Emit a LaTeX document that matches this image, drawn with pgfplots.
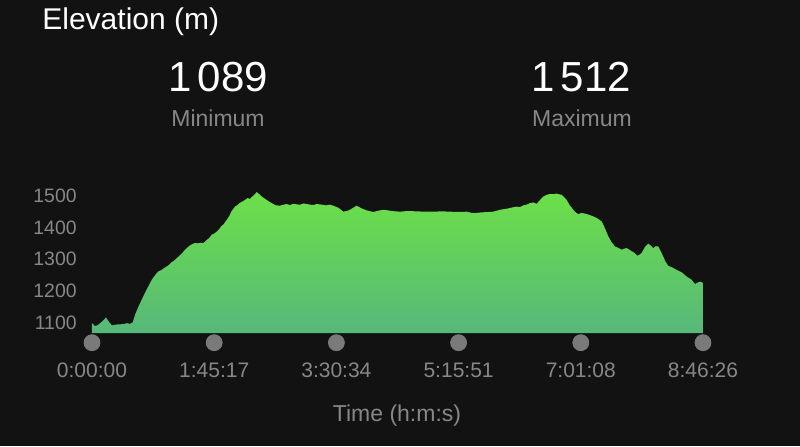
\documentclass[border=0pt]{standalone}
\usepackage{pgfplots}
\pgfplotsset{compat=1.18}
\usepackage{pgfplotstable}
\usepackage{fontspec}
\setmainfont{Liberation Sans}
\definecolor{bg}{HTML}{121212}
\definecolor{lbl}{HTML}{878787}
\definecolor{dot}{HTML}{7A7A7A}
\definecolor{gtop}{RGB}{108,224,72}
\definecolor{gbot}{RGB}{86,184,122}
\pgfplotstableread{
t e
0 1067
0 1098
155 1089
300 1092
517 1103
724 1116
900 1100
1034 1091
1300 1094
1600 1095
1809 1098
1964 1096
2100 1100
2223 1124
2400 1150
2569 1172
2750 1195
2910 1214
3100 1236
3345 1256
3450 1262
3600 1266
3750 1273
3862 1277
4000 1283
4100 1290
4250 1295
4379 1303
4500 1310
4650 1318
4780 1328
4896 1335
5000 1340
5100 1345
5200 1348
5325 1351
5450 1350
5600 1352
5754 1351
5850 1356
5930 1361
6050 1366
6200 1378
6300 1380
6446 1387
6550 1393
6700 1405
6800 1410
6963 1424
7100 1436
7200 1450
7393 1466
7500 1470
7650 1478
7800 1483
7909 1487
8050 1493
8168 1490
8250 1496
8339 1500
8420 1505
8514 1512
8650 1505
8773 1498
9000 1488
9150 1482
9290 1477
9500 1470
9719 1469
9900 1472
10050 1474
10250 1471
10406 1475
10600 1473
10750 1472
10950 1476
11099 1474
11300 1472
11450 1471
11600 1474
11787 1473
12100 1470
12300 1472
12474 1469
12750 1462
12991 1450
13150 1452
13300 1455
13500 1462
13684 1469
13800 1465
13950 1460
14201 1454
14400 1451
14542 1449
14800 1453
15059 1456
15300 1454
15500 1452
15922 1450
16300 1452
16800 1451
17200 1450
17644 1450
18100 1451
18500 1450
19000 1449
19370 1450
19712 1445
20000 1447
20200 1448
20500 1449
20746 1450
21092 1456
21300 1458
21500 1460
21700 1463
21955 1466
22100 1464
22300 1470
22500 1473
22643 1477
22800 1479
22989 1475
23150 1486
23330 1498
23500 1503
23677 1506
23850 1505
24000 1507
24150 1505
24282 1503
24540 1487
24700 1470
24882 1456
25000 1448
25140 1442
25300 1446
25486 1444
25700 1440
25915 1435
26100 1430
26349 1419
26500 1400
26691 1372
26850 1355
27037 1340
27200 1336
27383 1330
27500 1333
27641 1335
27780 1330
27900 1325
28050 1320
28190 1311
28300 1314
28417 1320
28600 1340
28758 1349
28900 1342
29017 1335
29150 1341
29275 1340
29400 1325
29534 1308
29650 1292
29792 1279
30000 1274
30226 1266
30500 1258
30743 1245
31000 1235
31172 1222
31300 1226
31431 1229
31586 1226
31586 1067
}\elev
\begin{document}
\begin{tikzpicture}
\fill[bg] (0,0) rectangle (400pt,223pt);
\useasboundingbox (0,0) rectangle (400pt,223pt);
\begin{axis}[
  at={(46pt,56.5pt)}, anchor=south west,
  scale only axis, width=305.5pt, height=76.5pt,
  xmin=0, xmax=31586, ymin=1067, ymax=1550,
  clip=false,
  scaled x ticks=false, scaled y ticks=false,
  axis line style={draw=none},
  major tick length=0pt,
  xtick={0,6317.2,12634.4,18951.6,25268.8,31586},
  xticklabels={0:00:00,1:45:17,3:30:34,5:15:51,7:01:08,8:46:26},
  ytick={1100,1200,1300,1400,1500},
  yticklabels={1100,1200,1300,1400,1500},
  xticklabel style={anchor=center, yshift=-18.5pt, text=lbl, font=\fontsize{10.5}{12}\selectfont},
  yticklabel style={anchor=east, inner sep=0pt, xshift=-7.5pt, text=lbl, font=\fontsize{9.7}{11}\selectfont},
]
\addplot[draw=none, top color=gtop, bottom color=gbot] table[x=t,y=e] {\elev};
\addplot[only marks, mark=*, mark size=4pt, color=dot] coordinates {(0,1036.4) (6317.2,1036.4) (12634.4,1036.4) (18951.6,1036.4) (25268.8,1036.4) (31586,1036.4)};
\end{axis}
\node[anchor=west, text=white, font=\fontsize{15}{17}\selectfont, inner sep=0pt] at (21pt,212.3pt) {Elevation (m)};
\node[text=white, font=\fontsize{21}{24}\selectfont, inner sep=0pt] at (109pt,184.5pt) {1\kern0.15em089};
\node[text=lbl, font=\fontsize{11.5}{13}\selectfont, inner sep=0pt] at (109pt,164pt) {Minimum};
\node[text=white, font=\fontsize{21}{24}\selectfont, inner sep=0pt] at (290.5pt,184.5pt) {1\kern0.15em512};
\node[text=lbl, font=\fontsize{11.5}{13}\selectfont, inner sep=0pt] at (291pt,164pt) {Maximum};
\node[text=lbl, font=\fontsize{11.5}{13}\selectfont, inner sep=0pt] at (198.5pt,15pt) {Time (h:m:s)};
\end{tikzpicture}
\end{document}
